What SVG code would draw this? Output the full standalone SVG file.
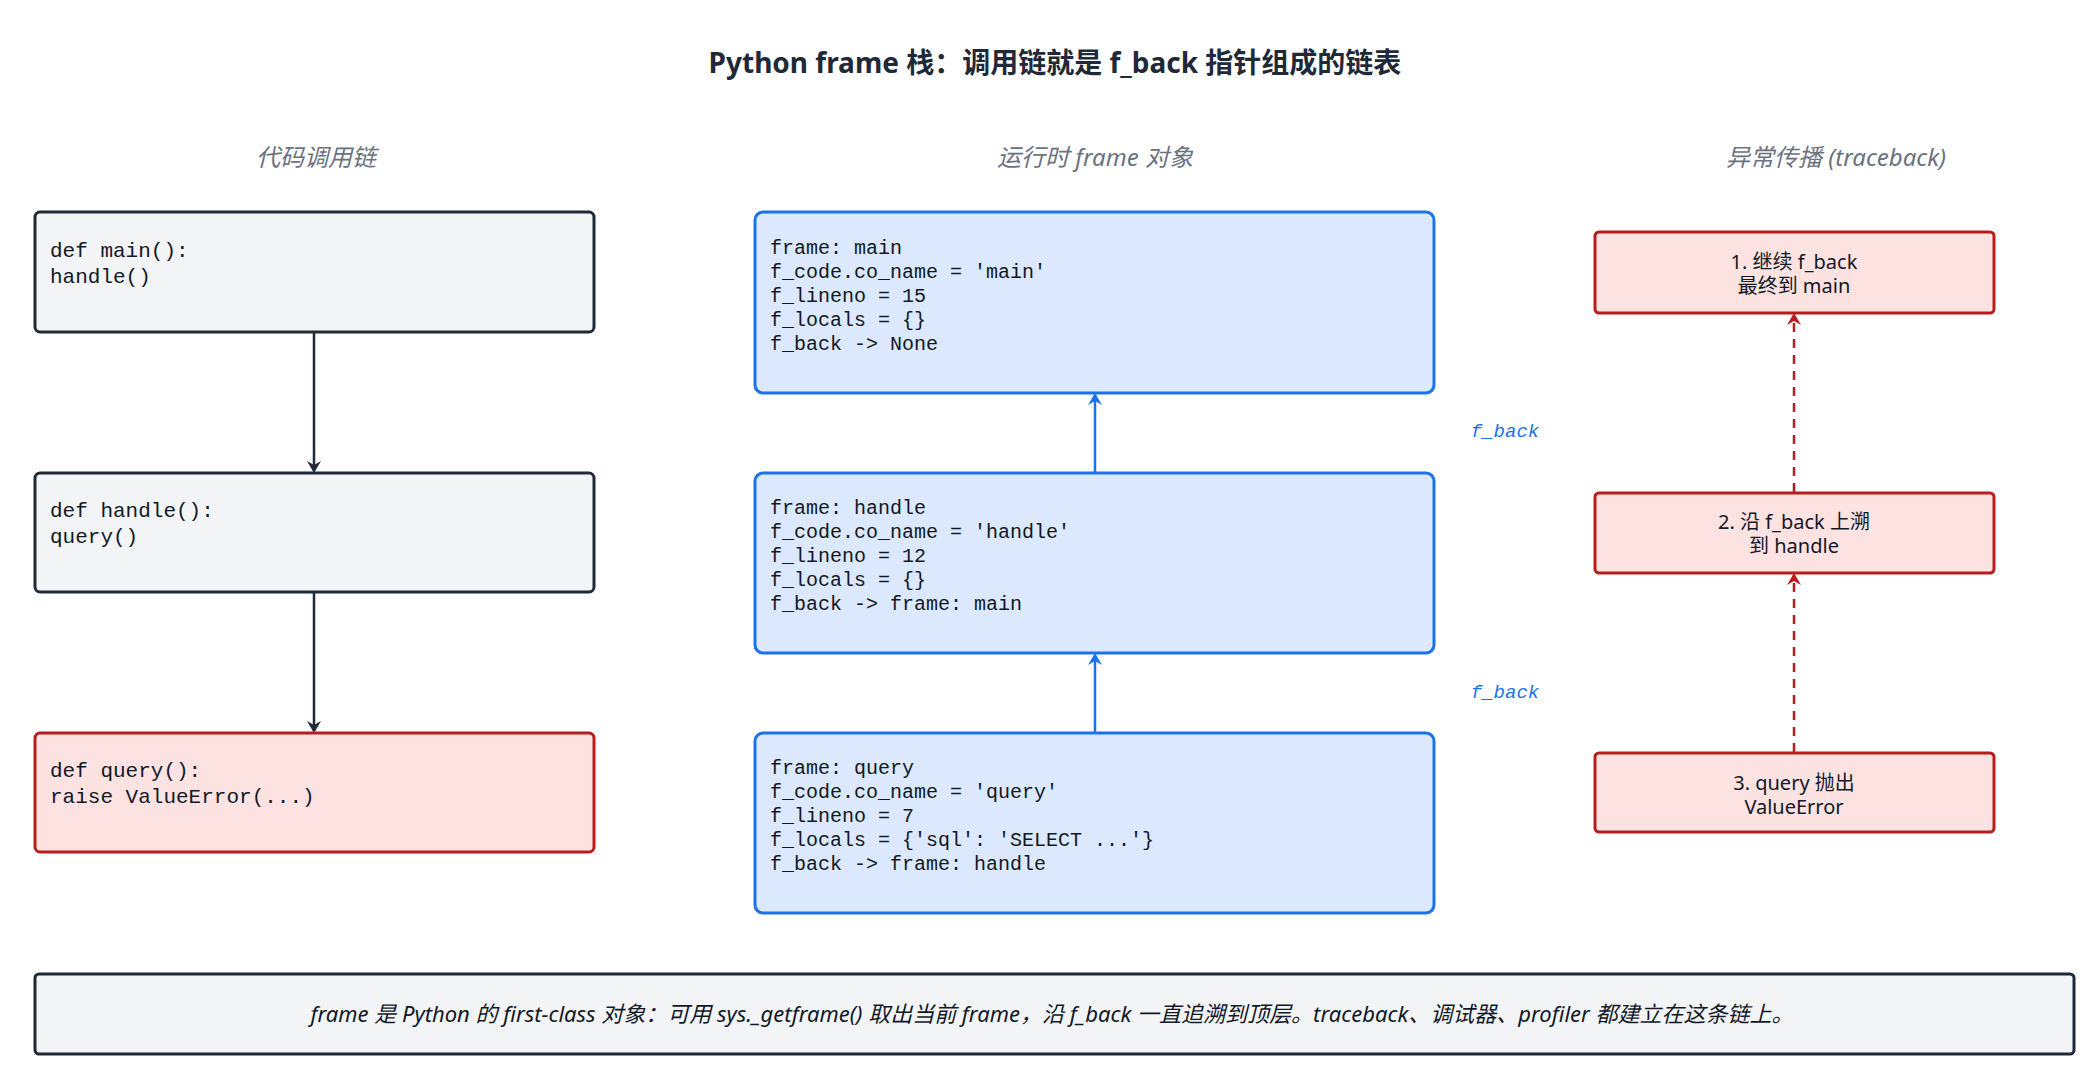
<svg xmlns="http://www.w3.org/2000/svg" width="2094" height="1072" viewBox="0 0 2094 1072">
<style>
.sans{font-family:"Noto Sans","Noto Sans CJK SC",sans-serif}
.mono{font-family:"Liberation Mono","Noto Sans CJK SC",monospace;font-size:20px;fill:#111827}
.code{font-size:21px}
.title{font-size:28px;font-weight:bold;fill:#1f2937}
.hdr{font-size:24px;font-style:italic;fill:#6b7280}
.gray{fill:#f3f4f6;stroke:#1f2937;stroke-width:3}
.red{fill:#fde2e2;stroke:#b91c1c;stroke-width:3}
.blue{fill:#dbe8fd;stroke:#1a73e8;stroke-width:3}
.rt{font-size:20px;fill:#111827}
.lab{font-family:"Liberation Mono",monospace;font-size:19px;font-style:italic;fill:#1a73e8}
</style>
<defs>
<marker id="ad" markerWidth="12" markerHeight="14" refX="10" refY="7" orient="auto" markerUnits="userSpaceOnUse"><path d="M0,0 L12,7 L0,14 L4,7 z" fill="#1f2937"/></marker>
<marker id="ab" markerWidth="12" markerHeight="14" refX="10" refY="7" orient="auto" markerUnits="userSpaceOnUse"><path d="M0,0 L12,7 L0,14 L4,7 z" fill="#1a73e8"/></marker>
<marker id="ar" markerWidth="12" markerHeight="14" refX="10" refY="7" orient="auto" markerUnits="userSpaceOnUse"><path d="M0,0 L12,7 L0,14 L4,7 z" fill="#b91c1c"/></marker>
</defs>
<rect width="2094" height="1072" fill="#fff"/>
<text class="sans title" x="1055" y="73" text-anchor="middle">Python frame 栈：调用链就是 f_back 指针组成的链表</text>
<text class="sans hdr" x="316" y="166" text-anchor="middle">代码调用链</text>
<text class="sans hdr" x="1095" y="166" text-anchor="middle">运行时 frame 对象</text>
<text class="sans hdr" x="1836" y="166" text-anchor="middle">异常传播 (traceback)</text>

<g id="connectors">
<line x1="314" y1="332" x2="314" y2="471" stroke="#1f2937" stroke-width="2.5" marker-end="url(#ad)"/>
<line x1="314" y1="593" x2="314" y2="731" stroke="#1f2937" stroke-width="2.5" marker-end="url(#ad)"/>
<line x1="1095" y1="472" x2="1095" y2="395" stroke="#1a73e8" stroke-width="2.5" marker-end="url(#ab)"/>
<line x1="1095" y1="732" x2="1095" y2="655" stroke="#1a73e8" stroke-width="2.5" marker-end="url(#ab)"/>
<text class="lab" x="1505" y="437" text-anchor="middle">f_back</text>
<text class="lab" x="1505" y="698" text-anchor="middle">f_back</text>
<line x1="1794" y1="492" x2="1794" y2="315" stroke="#b91c1c" stroke-width="2.5" stroke-dasharray="9,7" marker-end="url(#ar)"/>
<line x1="1794" y1="752" x2="1794" y2="575" stroke="#b91c1c" stroke-width="2.5" stroke-dasharray="9,7" marker-end="url(#ar)"/>
</g>

<g id="main"><rect class="gray" x="35" y="212" width="559" height="120" rx="5"/>
<text class="mono code" x="50" y="257">def main():<tspan x="50" dy="26">handle()</tspan></text></g>
<g id="handle"><rect class="gray" x="35" y="473" width="559" height="119" rx="5"/>
<text class="mono code" x="50" y="517">def handle():<tspan x="50" dy="26">query()</tspan></text></g>
<g id="query"><rect class="red" x="35" y="733" width="559" height="119" rx="5"/>
<text class="mono code" x="50" y="777">def query():<tspan x="50" dy="26">raise ValueError(...)</tspan></text></g>

<g id="frame_main"><rect class="blue" x="755" y="212" width="679" height="181" rx="8"/>
<text class="mono" x="770" y="254">frame: main<tspan x="770" dy="24">f_code.co_name = 'main'</tspan><tspan x="770" dy="24">f_lineno = 15</tspan><tspan x="770" dy="24">f_locals = {}</tspan><tspan x="770" dy="24">f_back -&gt; None</tspan></text></g>
<g id="frame_handle"><rect class="blue" x="755" y="473" width="679" height="180" rx="8"/>
<text class="mono" x="770" y="514">frame: handle<tspan x="770" dy="24">f_code.co_name = 'handle'</tspan><tspan x="770" dy="24">f_lineno = 12</tspan><tspan x="770" dy="24">f_locals = {}</tspan><tspan x="770" dy="24">f_back -&gt; frame: main</tspan></text></g>
<g id="frame_query"><rect class="blue" x="755" y="733" width="679" height="180" rx="8"/>
<text class="mono" x="770" y="774">frame: query<tspan x="770" dy="24">f_code.co_name = 'query'</tspan><tspan x="770" dy="24">f_lineno = 7</tspan><tspan x="770" dy="24">f_locals = {'sql': 'SELECT ...'}</tspan><tspan x="770" dy="24">f_back -&gt; frame: handle</tspan></text></g>

<g id="tb1"><rect class="red" x="1595" y="232" width="399" height="81" rx="4"/>
<text class="sans rt" x="1794" y="269" text-anchor="middle">1. 继续 f_back<tspan x="1794" dy="24">最终到 main</tspan></text></g>
<g id="tb2"><rect class="red" x="1595" y="493" width="399" height="80" rx="4"/>
<text class="sans rt" x="1794" y="529" text-anchor="middle">2. 沿 f_back 上溯<tspan x="1794" dy="24">到 handle</tspan></text></g>
<g id="tb3"><rect class="red" x="1595" y="753" width="399" height="79" rx="4"/>
<text class="sans rt" x="1794" y="790" text-anchor="middle">3. query 抛出<tspan x="1794" dy="24">ValueError</tspan></text></g>

<g id="note"><rect class="gray" x="35" y="974" width="2039" height="80" rx="4"/>
<text class="sans" x="1052" y="1022" text-anchor="middle" font-size="22" font-style="italic" fill="#111827">frame 是 Python 的 first-class 对象：可用 sys._getframe() 取出当前 frame，沿 f_back 一直追溯到顶层。traceback、调试器、profiler 都建立在这条链上。</text></g>
</svg>
